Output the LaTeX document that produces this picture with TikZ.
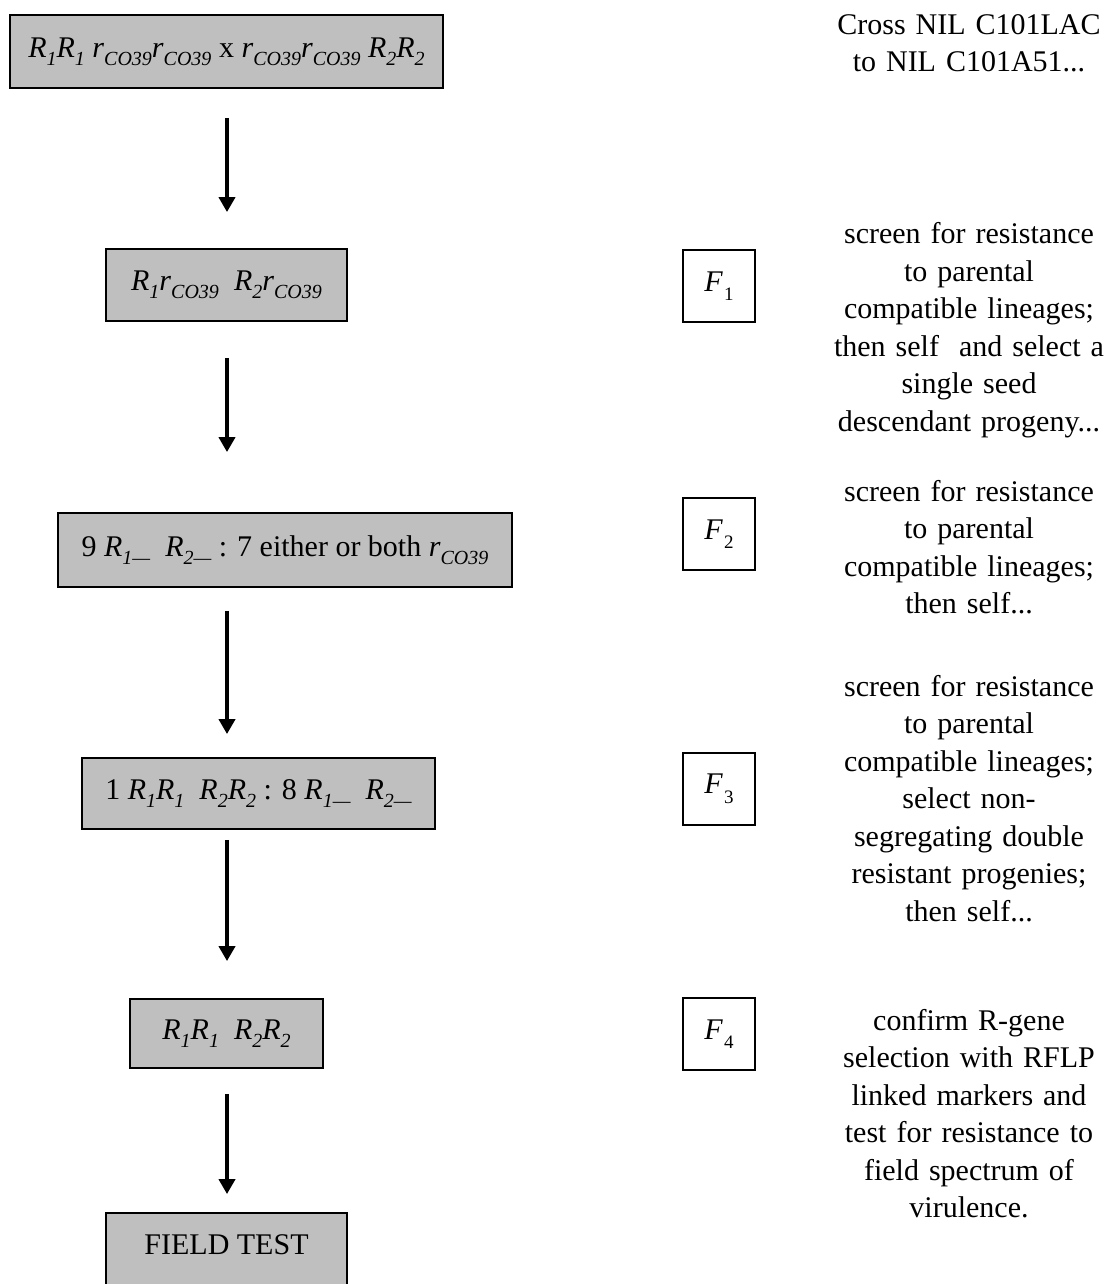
\documentclass[tikz,border=0pt]{standalone}
\usepackage{fontspec}
\setmainfont{Liberation Serif}
\usetikzlibrary{arrows.meta}

\newcommand{\gsub}[1]{\raisebox{-0.6ex}{\fontsize{20}{20}\selectfont\itshape #1}}
\newcommand{\gR}[1]{\textit{R}\gsub{#1}}
\newcommand{\gr}{\textit{r}\gsub{CO39}}
\newcommand{\gF}[1]{\textit{F}\kern1pt\raisebox{-0.7ex}{\fontsize{19}{19}\selectfont #1}}

\begin{document}
\begin{tikzpicture}[x=1pt,y=-1pt,
    every node/.style={font=\fontsize{30}{37.5}\selectfont},
    stage/.style={draw,line width=1.8pt,fill=gray!50,inner sep=0pt},
    gen/.style={draw,line width=1.6pt,minimum width=72pt,minimum height=72pt,inner sep=0pt},
    note/.style={align=center,text width=320pt},
    flow/.style={line width=4.8pt,-{Triangle[width=16pt,length=15pt]}}]
  \useasboundingbox (0,0) rectangle (1117,1284);
  \clip (0,0) rectangle (1117,1284);
  \coordinate (ax) at (227,0);

  % breeding stages
  \node[stage,minimum width=433pt,minimum height=73pt] (b1) at (226.5,51.5)
    {\gR{1}\gR{1} \gr\gr{} x \gr\gr{} \gR{2}\gR{2}};
  \node[stage,minimum width=241pt,minimum height=72pt] (b2) at (226.5,285)
    {\gR{1}\gr\ \ \gR{2}\gr};
  \node[stage,minimum width=454pt,minimum height=74pt] (b3) at (285,550)
    {9 \gR{1—}\ \ \gR{2—} : 7 either or both \gr};
  \node[stage,minimum width=353pt,minimum height=71pt] (b4) at (258.5,793.5)
    {1 \gR{1}\gR{1}\ \ \gR{2}\gR{2} : 8 \gR{1—}\ \ \gR{2—}};
  \node[stage,minimum width=193pt,minimum height=69pt] (b5) at (226.5,1033.5)
    {\gR{1}\gR{1}\ \ \gR{2}\gR{2}};
  \node[stage,minimum width=241pt,minimum height=78pt,text depth=14pt] (field) at (226.5,1252)
    {FIELD TEST};

  % generations
  \node[gen] (f1) at (719,286) {\gF{1}};
  \node[gen] (f2) at (719,534) {\gF{2}};
  \node[gen] (f3) at (719,789) {\gF{3}};
  \node[gen] (f4) at (719,1034) {\gF{4}};

  % notes
  \node[note] (n1) at (969,43) {Cross NIL C101LAC\\to NIL C101A51...};
  \node[note] (n2) at (969,330) {screen for resistance\\to parental\\compatible lineages;\\then self\ \ and select a\\single seed\\descendant progeny...};
  \node[note] (n3) at (969,547) {screen for resistance\\to parental\\compatible lineages;\\then self...};
  \node[note] (n4) at (969,798.5) {screen for resistance\\to parental\\compatible lineages;\\select non-\\segregating double\\resistant progenies;\\then self...};
  \node[note] (n5) at (969,1113.5) {confirm R-gene\\selection with RFLP\\linked markers and\\test for resistance to\\field spectrum of\\virulence.};

  \draw[flow,shorten <=29pt,shorten >=36pt] (b1.south -| ax) -- (b2.north -| ax);
  \draw[flow,shorten <=36pt,shorten >=60pt] (b2.south -| ax) -- (b3.north -| ax);
  \draw[flow,shorten <=23pt,shorten >=23pt] (b3.south -| ax) -- (b4.north -| ax);
  \draw[flow,shorten <=10pt,shorten >=37pt] (b4.south -| ax) -- (b5.north -| ax);
  \draw[flow,shorten <=25pt,shorten >=18pt] (b5.south -| ax) -- (field.north -| ax);
\end{tikzpicture}
\end{document}
